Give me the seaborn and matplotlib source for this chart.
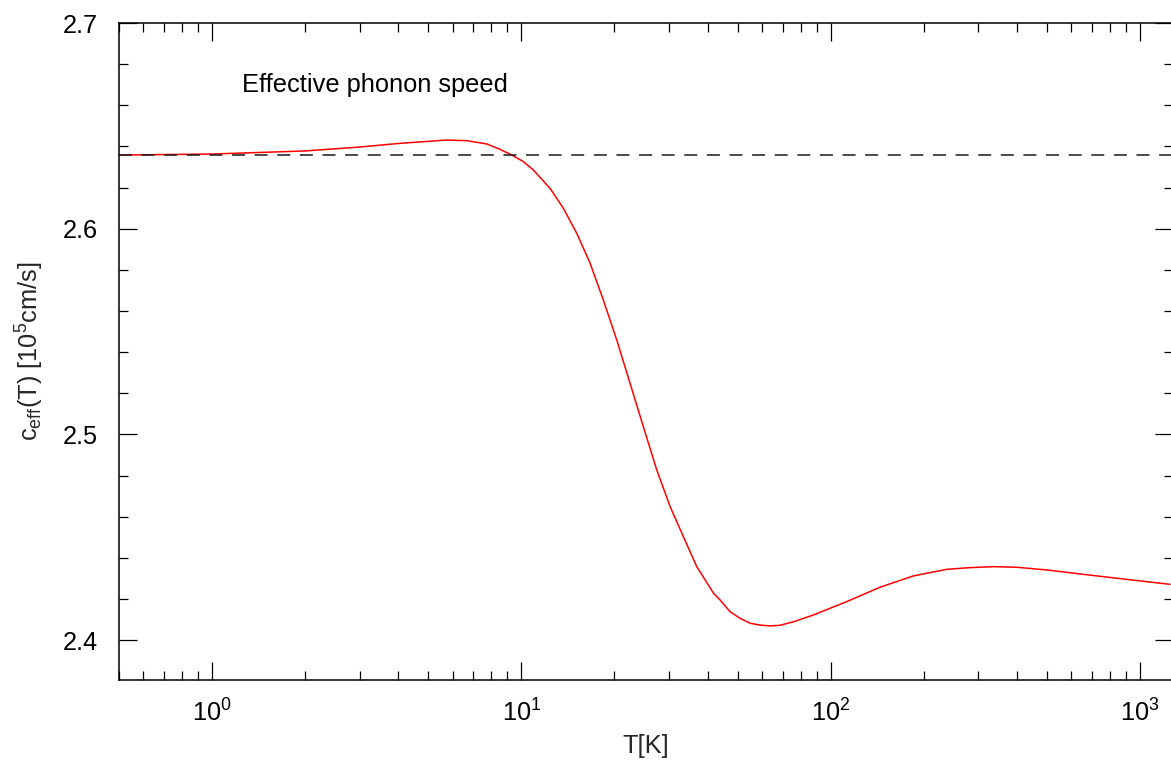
import seaborn as sns
import matplotlib.pyplot as plt
from matplotlib.ticker import MultipleLocator, LogLocator, NullFormatter

# temperature [K] and effective phonon speed [1e5 cm/s]
temps = [0.5, 1.0, 2.0, 3.0, 4.05, 5.74, 6.66, 7.73, 8.53, 9.31, 10.15,
         10.94, 12.38, 13.67, 15.1, 16.68, 18.41, 20.34, 22.46, 24.8, 27.4,
         30.26, 33.4, 36.9, 41.8, 43.9, 47.3, 50.9, 54.9, 59.1, 63.7, 68.6,
         75.8, 87.9, 112.7, 144.4, 185.1, 237.4, 280.0, 335.7, 400.0, 499.6,
         725.0, 1052.0, 1251.0]
speeds = [2.6358, 2.6363, 2.6378, 2.6397, 2.6415, 2.6431, 2.6428, 2.6412,
          2.6386, 2.6358, 2.6326, 2.6285, 2.6196, 2.6099, 2.5978, 2.5832,
          2.5653, 2.5459, 2.5248, 2.5037, 2.4827, 2.4649, 2.4503, 2.4357,
          2.4228, 2.4195, 2.4138, 2.4106, 2.4082, 2.4073, 2.4069, 2.4072,
          2.4089, 2.4122, 2.4187, 2.4257, 2.4312, 2.4344, 2.4352, 2.4357,
          2.4354, 2.4341, 2.4312, 2.4284, 2.4271]
low_t_limit = 2.636

sns.set_style("ticks")
plt.rcParams['font.family'] = ['Liberation Sans', 'DejaVu Sans']
plt.rcParams['mathtext.fontset'] = 'custom'
plt.rcParams['mathtext.rm'] = 'Liberation Sans'
plt.rcParams['mathtext.it'] = 'Liberation Sans:italic'
plt.rcParams['mathtext.bf'] = 'Liberation Sans:bold'
plt.rcParams['mathtext.default'] = 'regular'

fig = plt.figure(figsize=(11.71, 7.63), dpi=100)
ax = fig.add_axes([119 / 1171, 83 / 763, 1054 / 1171, 657 / 763])

sns.lineplot(x=temps, y=speeds, ax=ax, color='red', lw=1.1)
ax.axhline(low_t_limit, color='#1a1a1a', lw=1.1, dashes=(8.5, 6.3))

ax.set_xscale('log')
ax.set_xlim(0.5, 1279)
ax.set_ylim(2.3806, 2.7)

ax.yaxis.set_major_locator(MultipleLocator(0.1))
ax.yaxis.set_minor_locator(MultipleLocator(0.02))
ax.xaxis.set_major_locator(LogLocator(base=10))
ax.xaxis.set_minor_locator(LogLocator(base=10, subs=range(2, 10)))
ax.xaxis.set_minor_formatter(NullFormatter())

ax.tick_params(which='both', direction='in', top=True, right=True,
               width=0.9, colors='black', labelsize=18.3)
ax.tick_params(which='major', length=13)
ax.tick_params(which='minor', length=6.5)
ax.tick_params(axis='y', pad=15)
ax.tick_params(axis='x', pad=14)

for s in ax.spines.values():
    s.set_linewidth(1.1)
    s.set_color('black')

ax.set_xlabel('T[K]', fontsize=18.3, labelpad=5)
ax.set_ylabel(r'c$_{eff}$(T) [10$^5$cm/s]', fontsize=18.3, labelpad=12)

ax.text(0.1167, 0.9056, 'Effective phonon speed', transform=ax.transAxes,
        fontsize=18.3, va='center', ha='left', color='black')

fig.savefig('out.png', dpi=100)
